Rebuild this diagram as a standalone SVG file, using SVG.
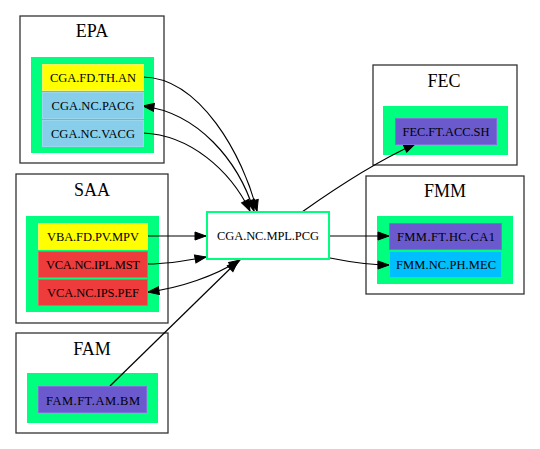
<svg xmlns="http://www.w3.org/2000/svg" width="540" height="449" viewBox="0 0 540 449">
<style>
.cl{fill:#fff;stroke:#333;stroke-width:1.3}
.gr{fill:#00ff7f}
.nt{font-family:"Liberation Serif","Times New Roman",serif;font-size:12.5px;text-anchor:middle;fill:#000}
.ct{font-family:"Liberation Serif","Times New Roman",serif;font-size:18px;text-anchor:middle;fill:#000}
.e{fill:none;stroke:#000;stroke-width:1.2}
.y{fill:#ffff00;stroke:#f5f560}
.b{fill:#87ceeb;stroke:#9ad6ee}
.r{fill:#ee3b3b;stroke:#f06060}
.s{fill:#6a5acd;stroke:#7f70d8}
.d{fill:#00bfff;stroke:#30ccff}
</style>
<defs>
<marker id="ah" markerUnits="userSpaceOnUse" markerWidth="14" markerHeight="11" refX="12" refY="5" orient="auto-start-reverse">
<path d="M1,1 L12,5 L1,9 z" fill="#000" stroke="#000" stroke-width="1"/>
</marker>
</defs>
<rect width="540" height="449" fill="#fff"/>

<g id="cluster_EPA">
<rect class="cl" x="20" y="16" width="144" height="147"/>
<text class="ct" x="92" y="37">EPA</text>
<rect class="gr" x="31" y="57" width="123" height="96"/>
</g>
<g id="cluster_SAA">
<rect class="cl" x="16" y="174" width="152" height="149"/>
<text class="ct" x="92" y="196">SAA</text>
<rect class="gr" x="26" y="216" width="133" height="96"/>
</g>
<g id="cluster_FAM">
<rect class="cl" x="16" y="333" width="152" height="100"/>
<text class="ct" x="92" y="355">FAM</text>
<rect class="gr" x="27" y="373" width="131" height="50"/>
</g>
<g id="cluster_FEC">
<rect class="cl" x="373" y="65" width="144" height="100"/>
<text class="ct" x="444" y="87">FEC</text>
<rect class="gr" x="383" y="106" width="125" height="49"/>
</g>
<g id="cluster_FMM">
<rect class="cl" x="366" y="176" width="158" height="118"/>
<text class="ct" x="445" y="197">FMM</text>
<rect class="gr" x="377" y="216" width="136" height="68"/>
</g>

<g id="edges">
<path class="e" d="M143,77 C200,78 243,155 257,211" marker-end="url(#ah)"/>
<path class="e" d="M143,106 C198,113 238,160 254,211" marker-start="url(#ah)" marker-end="url(#ah)"/>
<path class="e" d="M143,133 C190,135 230,170 250,211" marker-end="url(#ah)"/>
<path class="e" d="M148,236 L206,236" marker-end="url(#ah)"/>
<path class="e" d="M148,264 C170,264 190,260 206,257" marker-end="url(#ah)"/>
<path class="e" d="M148,292 C180,288 215,276 240,260" marker-start="url(#ah)" marker-end="url(#ah)"/>
<path class="e" d="M110,386 L238,261" marker-end="url(#ah)"/>
<path class="e" d="M302,212 C340,185 380,160 415,144" marker-end="url(#ah)"/>
<path class="e" d="M330,236 L389,236" marker-end="url(#ah)"/>
<path class="e" d="M330,258 C350,262 370,265 389,265" marker-end="url(#ah)"/>
</g>

<g id="CGA.FD.TH.AN"><rect class="y" x="42.5" y="64.5" width="101" height="26"/><text class="nt" x="93" y="82" textLength="86" lengthAdjust="spacing">CGA.FD.TH.AN</text></g>
<g id="CGA.NC.PACG"><rect class="b" x="42.5" y="92.5" width="101" height="26"/><text class="nt" x="93" y="110" textLength="83" lengthAdjust="spacing">CGA.NC.PACG</text></g>
<g id="CGA.NC.VACG"><rect class="b" x="42.5" y="120.5" width="101" height="26"/><text class="nt" x="93" y="138" textLength="84" lengthAdjust="spacing">CGA.NC.VACG</text></g>

<g id="VBA.FD.PV.MPV"><rect class="y" x="38.5" y="223.5" width="109" height="26"/><text class="nt" x="93" y="241" textLength="92" lengthAdjust="spacing">VBA.FD.PV.MPV</text></g>
<g id="VCA.NC.IPL.MST"><rect class="r" x="38.5" y="251.5" width="109" height="26"/><text class="nt" x="93" y="269" textLength="94" lengthAdjust="spacing">VCA.NC.IPL.MST</text></g>
<g id="VCA.NC.IPS.PEF"><rect class="r" x="38.5" y="279.5" width="109" height="26"/><text class="nt" x="93" y="297" textLength="92" lengthAdjust="spacing">VCA.NC.IPS.PEF</text></g>

<g id="FAM.FT.AM.BM"><rect class="s" x="38.5" y="386.5" width="108" height="26"/><text class="nt" x="93" y="404.5" textLength="94" lengthAdjust="spacing">FAM.FT.AM.BM</text></g>

<g id="FEC.FT.ACC.SH"><rect class="s" x="395.5" y="118.5" width="101" height="26"/><text class="nt" x="446" y="136" textLength="87" lengthAdjust="spacing">FEC.FT.ACC.SH</text></g>

<g id="FMM.FT.HC.CA1"><rect class="s" x="389.5" y="223.5" width="112" height="26"/><text class="nt" x="446" y="241" textLength="98" lengthAdjust="spacing">FMM.FT.HC.CA1</text></g>
<g id="FMM.NC.PH.MEC"><rect class="d" x="389.5" y="251.5" width="112" height="26"/><text class="nt" x="446" y="269" textLength="100" lengthAdjust="spacing">FMM.NC.PH.MEC</text></g>

<g id="CGA.NC.MPL.PCG"><rect x="207" y="212" width="122" height="47" fill="#fff" stroke="#00ff7f" stroke-width="2"/><text class="nt" x="268" y="240" textLength="102" lengthAdjust="spacing">CGA.NC.MPL.PCG</text></g>
</svg>
